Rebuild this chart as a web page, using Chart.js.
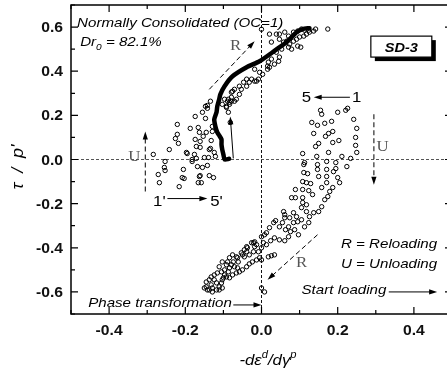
<!DOCTYPE html>
<html>
<head>
<meta charset="utf-8">
<script src="https://cdn.jsdelivr.net/npm/chart.js@4.4.1/dist/chart.umd.min.js"></script>
<style>
    html, body { margin: 0; padding: 0; background: #fff; overflow: hidden; }
    #wrap { position: absolute; left: 0; top: 0; width: 460px; height: 372px; }
</style>
</head>
<body>
<div id="wrap"><canvas id="chart" width="460" height="372"></canvas></div>
<script>
// Axis ticks
const xTicks = [-0.4, -0.2, 0, 0.2, 0.4];
const xMinor = [-0.5, -0.3, -0.1, 0.1, 0.3, 0.5];
const yTicks = [-0.6, -0.4, -0.2, 0, 0.2, 0.4, 0.6];
const yMinor = [-0.7, -0.5, -0.3, -0.1, 0.1, 0.3, 0.5, 0.7];

// First loading path (thick black trace)
const loadingCurve = [
    [-0.085, 0.003], [-0.097, 0.0], [-0.1, 0.023], [-0.103, 0.045], [-0.105, 0.068], [-0.105, 0.091], [-0.111, 0.109],
    [-0.116, 0.123], [-0.121, 0.15], [-0.124, 0.182], [-0.118, 0.214], [-0.116, 0.241], [-0.111, 0.273],
    [-0.108, 0.295], [-0.097, 0.332], [-0.076, 0.377], [-0.039, 0.418], [-0.005, 0.445], [0.029, 0.486],
    [0.066, 0.532], [0.092, 0.577], [0.108, 0.591], [0.126, 0.595]
];

// Cycles on the compression side (upper branch)
const upperPoints = [
    [-0.284, 0.023], [-0.253, -0.009], [-0.242, 0.045], [-0.226, 0.095], [-0.221, 0.114], [-0.218, 0.073],
    [-0.221, 0.159], [-0.187, 0.141], [-0.174, 0.195], [-0.166, 0.145], [-0.163, 0.123], [-0.155, 0.214],
    [-0.153, 0.105], [-0.161, 0.082], [-0.161, 0.055], [-0.147, 0.186], [-0.147, 0.241], [-0.142, 0.232],
    [-0.134, 0.264], [-0.129, 0.15], [-0.129, 0.127], [-0.134, 0.05], [-0.132, 0.086], [-0.176, 0.023],
    [-0.195, 0.027], [-0.182, 0.0], [-0.15, 0.009], [-0.139, 0.009], [-0.124, 0.032], [-0.145, 0.123],
    [-0.174, 0.091], [-0.171, 0.059], [-0.137, 0.045], [-0.121, 0.014], [-0.197, 0.032], [-0.182, -0.009],
    [-0.171, 0.005], [-0.155, -0.036], [-0.142, -0.027], [-0.205, -0.045], [-0.208, -0.082], [-0.163, -0.077],
    [-0.137, -0.073], [-0.126, -0.082], [-0.271, -0.068], [-0.268, -0.105], [-0.253, -0.05], [-0.255, -0.036],
    [-0.168, -0.032], [-0.161, -0.073], [-0.166, -0.105], [-0.158, -0.105], [-0.216, -0.123], [-0.203, -0.086],
    [-0.089, 0.264], [-0.079, 0.264], [-0.071, 0.264], [-0.092, 0.241], [-0.082, 0.168],
    [0.016, 0.409], [0.016, 0.423], [0.003, 0.386], [-0.005, 0.395], [-0.013, 0.355], [-0.018, 0.409],
    [-0.032, 0.35], [-0.039, 0.332], [-0.053, 0.318], [-0.058, 0.295], [-0.076, 0.309], [-0.066, 0.273],
    [-0.084, 0.259], [-0.092, 0.236], [-0.079, 0.282], [-0.097, 0.273], [-0.103, 0.25], [-0.142, 0.245],
    [0.021, 0.568], [0.039, 0.568], [0.047, 0.568], [0.061, 0.577], [0.071, 0.559], [0.084, 0.577],
    [0.095, 0.582], [0.105, 0.591], [0.113, 0.586], [0.124, 0.586], [0.137, 0.582], [0.142, 0.591],
    [0.174, 0.591], [0.026, 0.532], [0.047, 0.545], [0.058, 0.532], [0.066, 0.536], [0.074, 0.523],
    [0.084, 0.536], [0.092, 0.545], [0.1, 0.555], [0.111, 0.559], [0.118, 0.568], [0.126, 0.577],
    [0.103, 0.509], [0.095, 0.514], [0.079, 0.5], [0.071, 0.509], [0.053, 0.5], [0.039, 0.486],
    [0.047, 0.464], [0.045, 0.445], [0.034, 0.432], [0.021, 0.418], [0.018, 0.441], [0.026, 0.455],
    [-0.008, 0.364], [-0.018, 0.355], [-0.026, 0.364], [-0.039, 0.364], [-0.047, 0.35], [-0.058, 0.332],
    [-0.071, 0.318], [-0.079, 0.305], [-0.087, 0.273], [-0.084, 0.25], [-0.087, 0.214], [0.0, 0.59]
];

// Cycles on the extension side (lower branch)
const lowerPoints = [
    [0.155, 0.223], [0.158, 0.205], [0.2, 0.214], [0.221, 0.223], [0.226, 0.232], [0.242, 0.182],
    [0.132, 0.168], [0.147, 0.155], [0.166, 0.164], [0.184, 0.173], [0.137, 0.118], [0.168, 0.105],
    [0.176, 0.118], [0.187, 0.127], [0.25, 0.141], [0.247, 0.1], [0.142, 0.059], [0.15, 0.073],
    [0.187, 0.077], [0.203, 0.086], [0.247, 0.064], [0.108, 0.027], [0.176, 0.032], [0.211, 0.014],
    [0.25, 0.032], [0.145, 0.014], [0.171, -0.009], [0.234, 0.005], [0.195, -0.014], [0.111, -0.023],
    [0.147, -0.023], [0.147, -0.045], [0.195, -0.041], [0.189, -0.055], [0.224, -0.032], [0.111, -0.059],
    [0.121, -0.064], [0.15, -0.077], [0.171, -0.077], [0.2, -0.082], [0.108, -0.1], [0.118, -0.105],
    [0.129, -0.109], [0.205, -0.105], [0.187, -0.127], [0.089, -0.136], [0.108, -0.136], [0.124, -0.141],
    [0.158, -0.127], [0.179, -0.145], [0.174, -0.168], [0.079, -0.173], [0.089, -0.173], [0.108, -0.173],
    [0.134, -0.159], [0.166, -0.182], [0.108, -0.195], [0.118, -0.205], [0.158, -0.214], [0.113, -0.014],
    [0.171, -0.045], [0.171, -0.105],
    [0.105, -0.218], [0.118, -0.236], [0.137, -0.241], [0.126, -0.259], [0.15, -0.236], [0.058, -0.236],
    [0.061, -0.25], [0.061, -0.264], [0.074, -0.264], [0.084, -0.241], [0.092, -0.259], [0.105, -0.273],
    [0.095, -0.282], [0.113, -0.305], [0.124, -0.286], [0.084, -0.286], [0.071, -0.305], [0.055, -0.286],
    [0.037, -0.277], [0.032, -0.286], [0.047, -0.305], [0.063, -0.318], [0.076, -0.327], [0.087, -0.318],
    [0.097, -0.341], [0.071, -0.35], [0.061, -0.368], [0.047, -0.364], [0.034, -0.355], [0.024, -0.368],
    [0.013, -0.332], [0.008, -0.341], [0.021, -0.309], [0.0, -0.35], [0.005, -0.377], [0.013, -0.386],
    [0.0, -0.4], [-0.008, -0.418], [0.0, -0.455], [-0.021, -0.418], [-0.032, -0.432], [-0.039, -0.418],
    [-0.018, -0.395], [0.018, -0.441], [0.026, -0.436], [0.034, -0.432], [-0.021, -0.377], [-0.039, -0.395],
    [-0.053, -0.423], [-0.045, -0.441], [-0.066, -0.441], [-0.061, -0.464], [-0.074, -0.464], [-0.071, -0.486],
    [-0.084, -0.491], [-0.087, -0.509], [-0.097, -0.523], [-0.1, -0.536], [0.0, -0.582], [0.008, -0.6],
    [-0.018, -0.373], [-0.013, -0.386], [-0.026, -0.377], [-0.037, -0.4], [-0.045, -0.409], [-0.05, -0.432],
    [-0.063, -0.445], [-0.079, -0.477], [-0.089, -0.464], [-0.092, -0.477], [-0.097, -0.5], [-0.105, -0.509],
    [-0.116, -0.514], [-0.124, -0.523], [-0.132, -0.532], [-0.137, -0.545], [-0.145, -0.555], [-0.145, -0.577],
    [-0.137, -0.591], [-0.129, -0.582], [-0.118, -0.591], [-0.111, -0.577], [-0.103, -0.582], [-0.105, -0.559],
    [-0.118, -0.559], [-0.103, -0.545], [-0.092, -0.532], [-0.084, -0.536], [-0.076, -0.523], [-0.066, -0.514],
    [-0.058, -0.509], [-0.05, -0.5], [-0.063, -0.491], [-0.039, -0.486], [-0.032, -0.473], [-0.024, -0.464],
    [-0.013, -0.455], [-0.005, -0.445], [-0.084, -0.445], [-0.076, -0.432], [-0.103, -0.464], [-0.111, -0.486],
    [-0.124, -0.545], [-0.132, -0.568], [-0.15, -0.582], [-0.142, -0.591], [-0.129, -0.6], [-0.111, -0.591]
];

const SANS = '"Liberation Sans", Arial, sans-serif';
const SERIF = '"Liberation Serif", "Times New Roman", serif';
const SX = 1.12; // the source figure is slightly stretched sideways

const toXY = arr => arr.map(p => ({ x: p[0], y: p[1] }));

// draw a run of text pieces, each {t, font, dy}
function drawRuns(ctx, runs, x, y, align) {
    ctx.save();
    ctx.textBaseline = 'alphabetic';
    ctx.textAlign = 'left';
    let total = 0;
    runs.forEach(r => { ctx.font = r.font; r.w = ctx.measureText(r.t).width * SX; total += r.w; });
    let cx = align === 'center' ? x - total / 2 : align === 'right' ? x - total : x;
    runs.forEach(r => {
        ctx.save();
        ctx.font = r.font;
        ctx.translate(cx, y + (r.dy || 0));
        ctx.scale(SX, 1);
        ctx.fillText(r.t, 0, 0);
        ctx.restore();
        cx += r.w;
    });
    ctx.restore();
}

function text(ctx, s, x, y, font, align, color) {
    ctx.save();
    ctx.fillStyle = color || '#000';
    drawRuns(ctx, [{ t: s, font }], x, y, align);
    ctx.restore();
}

function arrow(ctx, x1, y1, x2, y2, dashed, color) {
    const ang = Math.atan2(y2 - y1, x2 - x1);
    const hl = 8, hw = 2.6;
    ctx.save();
    ctx.strokeStyle = color || '#000';
    ctx.fillStyle = color || '#000';
    ctx.lineWidth = 1;
    if (dashed) ctx.setLineDash([5, 3]);
    ctx.beginPath();
    ctx.moveTo(x1, y1);
    ctx.lineTo(x2 - Math.cos(ang) * hl * 0.8, y2 - Math.sin(ang) * hl * 0.8);
    ctx.stroke();
    ctx.setLineDash([]);
    ctx.beginPath();
    ctx.moveTo(x2, y2);
    ctx.lineTo(x2 - Math.cos(ang) * hl - Math.sin(ang) * hw, y2 - Math.sin(ang) * hl + Math.cos(ang) * hw);
    ctx.lineTo(x2 - Math.cos(ang) * hl + Math.sin(ang) * hw, y2 - Math.sin(ang) * hl - Math.cos(ang) * hw);
    ctx.closePath();
    ctx.fill();
    ctx.restore();
}

// dashed zero lines under the markers
const zeroLines = {
    id: 'zeroLines',
    beforeDatasetsDraw(chart) {
        const { ctx, chartArea: a, scales: { x, y } } = chart;
        ctx.save();
        ctx.lineWidth = 1;
        ctx.setLineDash([3, 2]);
        ctx.strokeStyle = '#555';
        ctx.beginPath();
        ctx.moveTo(a.left, y.getPixelForValue(0));
        ctx.lineTo(a.right, y.getPixelForValue(0));
        ctx.stroke();
        ctx.strokeStyle = '#111';
        ctx.beginPath();
        ctx.moveTo(x.getPixelForValue(0), a.top);
        ctx.lineTo(x.getPixelForValue(0), a.bottom);
        ctx.stroke();
        ctx.restore();
    }
};

// frame, inward ticks, labels and annotations
const decorations = {
    id: 'decorations',
    afterDraw(chart) {
        const { ctx, chartArea: a, scales: { x, y } } = chart;
        const px = v => x.getPixelForValue(v);
        const py = v => y.getPixelForValue(v);

        ctx.save();
        ctx.strokeStyle = '#000';
        ctx.lineWidth = 1.5;
        ctx.strokeRect(a.left, a.top, a.right - a.left, a.bottom - a.top);

        ctx.lineWidth = 1.2;
        ctx.beginPath();
        const tickX = (v, len) => {
            ctx.moveTo(px(v), a.bottom); ctx.lineTo(px(v), a.bottom - len);
            ctx.moveTo(px(v), a.top); ctx.lineTo(px(v), a.top + len);
        };
        const tickY = (v, len) => {
            ctx.moveTo(a.left, py(v)); ctx.lineTo(a.left + len, py(v));
            ctx.moveTo(a.right, py(v)); ctx.lineTo(a.right - len, py(v));
        };
        xTicks.forEach(v => tickX(v, 7));
        xMinor.forEach(v => tickX(v, 4));
        yTicks.forEach(v => tickY(v, 7));
        yMinor.forEach(v => tickY(v, 4));
        ctx.stroke();
        ctx.restore();

        const tickFont = 'bold 14px ' + SANS;
        xTicks.forEach(v => text(ctx, v.toFixed(1), px(v), a.bottom + 21, tickFont, 'center', '#111'));
        yTicks.forEach(v => text(ctx, v.toFixed(1), a.left - 8, py(v) + 5, tickFont, 'right', '#111'));

        // axis titles
        const it = s => 'italic ' + s + 'px ' + SANS;
        drawRuns(ctx, [
            { t: '-d', font: it(15) }, { t: 'ε', font: it(15) }, { t: 'd', font: it(10), dy: -7 },
            { t: '/d', font: it(15) }, { t: 'γ', font: it(15) }, { t: 'p', font: it(10), dy: -7 }
        ], 268, 365, 'center');
        ctx.save();
        ctx.translate(23, 167);
        ctx.rotate(-Math.PI / 2);
        drawRuns(ctx, [{ t: 'τ  /  p\'', font: it(16) }], 0, 0, 'center');
        ctx.restore();

        // header text
        text(ctx, 'Normally Consolidated (OC=1)', px(-0.484), py(0.6), it(13.5), 'left');
        drawRuns(ctx, [
            { t: 'Dr', font: it(13.5) }, { t: '0', font: it(9), dy: 4 }, { t: ' = 82.1%', font: it(13.5) }
        ], px(-0.476), py(0.515), 'left');

        // specimen box with drop shadow
        const bx = px(0.287), by = py(0.559), bw = px(0.447) - bx, bh = py(0.464) - by;
        ctx.save();
        ctx.fillStyle = '#000';
        ctx.fillRect(bx + 4, by + 4, bw, bh);
        ctx.fillStyle = '#fff';
        ctx.fillRect(bx, by, bw, bh);
        ctx.lineWidth = 1.2;
        ctx.strokeRect(bx, by, bw, bh);
        ctx.restore();
        text(ctx, 'SD-3', bx + bw / 2, by + bh / 2 + 5, 'bold italic 13px ' + SANS, 'center');

        // cycle numbering
        const plain = '15px ' + SANS;
        text(ctx, '5', px(0.118), py(0.286) + 6, plain, 'center');
        text(ctx, '1', px(0.25), py(0.286) + 6, plain, 'center');
        arrow(ctx, px(0.232), py(0.282), px(0.137), py(0.282));
        text(ctx, '1\'', px(-0.268), py(-0.182) + 6, plain, 'center');
        text(ctx, '5\'', px(-0.118), py(-0.182) + 6, plain, 'center');
        arrow(ctx, px(-0.247), py(-0.177), px(-0.142), py(-0.177));

        // loading direction arrows
        const gray = '#555';
        const serif = '15px ' + SERIF;
        arrow(ctx, px(-0.305), py(-0.145), px(-0.305), py(0.127), true);
        text(ctx, 'U', px(-0.334), py(0.014) + 5, serif, 'center', gray);
        arrow(ctx, px(0.295), py(0.205), px(0.295), py(-0.114), true);
        text(ctx, 'U', px(0.318), py(0.059) + 5, serif, 'center', gray);
        arrow(ctx, px(-0.137), py(0.318), px(-0.018), py(0.536), true);
        text(ctx, 'R', px(-0.068), py(0.518) + 5, serif, 'center', gray);
        arrow(ctx, px(0.147), py(-0.341), px(0.016), py(-0.545), true);
        text(ctx, 'R', px(0.105), py(-0.464) + 5, serif, 'center', gray);
        arrow(ctx, px(-0.074), py(0.005), px(-0.082), py(0.195));

        // legend text and markers of events
        text(ctx, 'R = Reloading', px(0.461), py(-0.377) + 5, it(13.5), 'right');
        text(ctx, 'U = Unloading', px(0.461), py(-0.468) + 5, it(13.5), 'right');
        text(ctx, 'Start loading', px(0.105), py(-0.586) + 5, it(13.5), 'left');
        arrow(ctx, px(0.334), py(-0.6), px(0.461), py(-0.6));
        text(ctx, 'Phase transformation', px(-0.455), py(-0.645) + 5, it(13.5), 'left');
        arrow(ctx, px(-0.074), py(-0.659), px(0), py(-0.659));
    }
};

const marker = {
    pointStyle: 'circle',
    pointRadius: 2.2,
    pointBorderWidth: 1,
    pointBorderColor: '#000',
    pointBackgroundColor: 'rgba(255,255,255,0)',
    showLine: false
};

new Chart(document.getElementById('chart'), {
    type: 'scatter',
    data: {
        datasets: [
            { label: 'upper', data: toXY(upperPoints), ...marker },
            { label: 'lower', data: toXY(lowerPoints), ...marker },
            {
                label: 'loading', data: toXY(loadingCurve), showLine: true,
                borderColor: '#000', borderWidth: 4.5, pointRadius: 0,
                borderCapStyle: 'round', borderJoinStyle: 'round', tension: 0.2
            }
        ]
    },
    options: {
        responsive: false,
        animation: false,
        devicePixelRatio: 1,
        layout: { padding: { top: 5, right: 8, left: 0, bottom: 0 } },
        plugins: { legend: { display: false }, tooltip: { enabled: false } },
        scales: {
            x: {
                type: 'linear', min: -0.5, max: 0.5,
                grid: { display: false }, border: { display: false },
                ticks: { display: false },
                afterFit: s => { s.height = 58; }
            },
            y: {
                type: 'linear', min: -0.7, max: 0.7,
                grid: { display: false }, border: { display: false },
                ticks: { display: false },
                afterFit: s => { s.width = 71; }
            }
        }
    },
    plugins: [zeroLines, decorations]
});
</script>
</body>
</html>
